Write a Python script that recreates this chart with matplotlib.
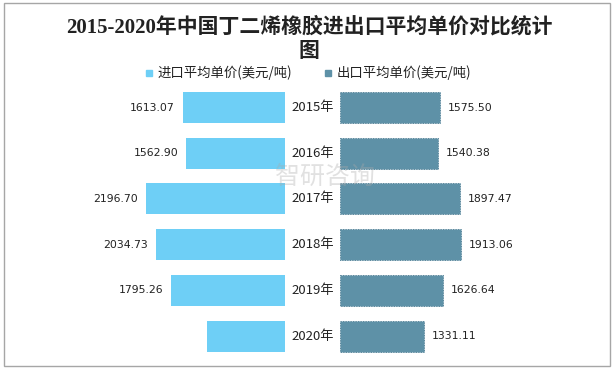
import matplotlib
matplotlib.use("Agg")
import matplotlib.pyplot as plt
from matplotlib.patches import Rectangle
from matplotlib.lines import Line2D

plt.rcParams['font.family'] = ['Noto Sans CJK SC', 'DejaVu Sans']

years = ["2015年", "2016年", "2017年", "2018年", "2019年", "2020年"]
import_price = [1613.07, 1562.90, 2196.70, 2034.73, 1795.26, 1233.00]
import_labels = ["1613.07", "1562.90", "2196.70", "2034.73", "1795.26", ""]
export_price = [1575.50, 1540.38, 1897.47, 1913.06, 1626.64, 1331.11]
export_labels = ["1575.50", "1540.38", "1897.47", "1913.06", "1626.64", "1331.11"]
series_names = ["进口平均单价(美元/吨)", "出口平均单价(美元/吨)"]

c_imp = "#6ECFF6"
c_exp = "#5E91A7"

W, H = 615, 370
fig = plt.figure(figsize=(W / 100, H / 100), dpi=100)

scale = 0.0633  # px per unit
cx = 312.5
gap = 27.5 / scale
ax = fig.add_axes([0, 1 - 358.9 / H, 1, (358.9 - 84.65) / H])
ax.set_xlim(-cx / scale, (W - cx) / scale)
ax.set_ylim(5.5, -0.5)
ax.axis('off')

y = list(range(len(years)))
ax.barh(y, [-v for v in import_price], left=-gap, height=0.68, color=c_imp)
ax.barh(y, export_price, left=gap, height=0.68, color=c_exp,
        edgecolor="#4F7F95", linewidth=0.6, linestyle=(0, (1.5, 1.5)))

# watermark (behind text)
fig.text(325 / W, 1 - 177 / H, "智研咨询", ha='center', va='center', fontsize=18,
         color='#AAAAAA', alpha=0.35, zorder=0.5)

off = 8 / scale
for i in y:
    ax.text(0, i, years[i], ha='center', va='center', fontsize=9.5, color='#222222')
    if import_labels[i]:
        ax.text(-gap - import_price[i] - off, i, import_labels[i], ha='right', va='center',
                fontsize=7.8, color='#222222', family='DejaVu Sans')
    ax.text(gap + export_price[i] + off, i, export_labels[i], ha='left', va='center',
            fontsize=7.8, color='#222222', family='DejaVu Sans')

title_fam = ['Liberation Serif', 'Noto Sans CJK SC']
fig.text(309 / W, 1 - 27 / H, "2015-2020年中国丁二烯橡胶进出口平均单价对比统计", ha='center', va='center',
         fontsize=15, fontweight='bold', color='#222222', family=title_fam)
fig.text(309 / W, 1 - 52 / H, "图", ha='center', va='center',
         fontsize=15, fontweight='bold', color='#222222', family=title_fam)

handles = [Line2D([], [], marker='s', linestyle='none', markersize=5, color=c_imp),
           Line2D([], [], marker='s', linestyle='none', markersize=5, color=c_exp)]
fig.legend(handles, series_names, loc='center', bbox_to_anchor=(308 / W, 1 - 73 / H), ncol=2,
           frameon=False, fontsize=9.6, handlelength=0.6, handletextpad=0.35, columnspacing=2.4,
           labelcolor='#222222')

fig.patches.append(Rectangle((4 / W, 1 - 366 / H), 606 / W, 363 / H, transform=fig.transFigure,
                             fill=False, edgecolor='#A6A6A6', linewidth=1))

fig.savefig("out.png", dpi=100)
